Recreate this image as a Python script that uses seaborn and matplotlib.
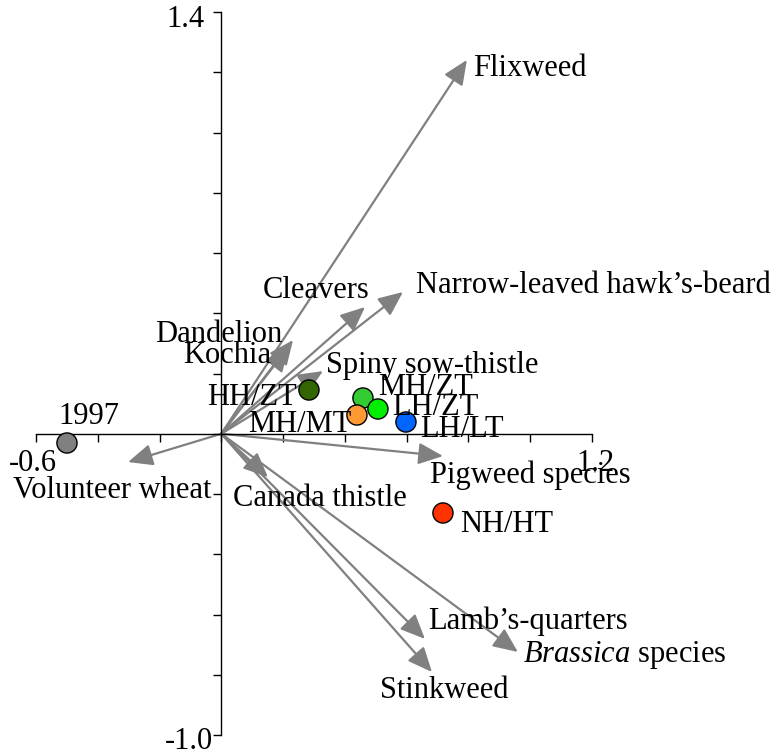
import numpy as np
import pandas as pd
import matplotlib
matplotlib.use("Agg")
import matplotlib.pyplot as plt
import seaborn as sns

# ---- data ----
species = ["Flixweed", "Narrow-leaved hawk\u2019s-beard", "Cleavers", "Dandelion", "Kochia",
           "Spiny sow-thistle", "Pigweed species", "Volunteer wheat", "Canada thistle",
           "Lamb\u2019s-quarters", "Stinkweed", "Brassica species"]
species_x = [0.795, 0.588, 0.465, 0.232, 0.218, 0.329, 0.7175, -0.302, 0.151, 0.659, 0.682, 0.960]
species_y = [1.241, 0.4705, 0.4207, 0.311, 0.288, 0.208, -0.074, -0.094, -0.144, -0.681, -0.791, -0.7245]
species_labels = ["Flixweed", "Narrow-leaved hawk\u2019s-beard", "Cleavers", "Dandelion", "Kochia",
                  "Spiny sow-thistle", "Pigweed species", "Volunteer wheat", "Canada thistle",
                  "Lamb\u2019s-quarters", "Stinkweed", r"$\mathit{Brassica}$ species"]
species_lab_x = [0.815, 0.630, 0.135, -0.215, -0.124, 0.339, 0.675, -0.6745, 0.038, 0.669, 0.5135, 0.976]
species_lab_y = [1.188, 0.467, 0.451, 0.305, 0.235, 0.202, -0.1635, -0.213, -0.240, -0.648, -0.877, -0.758]

treatments = ["1997", "HH/ZT", "MH/ZT", "LH/ZT", "MH/MT", "LH/LT", "NH/HT"]
treat_x = [-0.4997, 0.2837, 0.4585, 0.507, 0.439, 0.5977, 0.7175]
treat_y = [-0.0307, 0.1452, 0.1187, 0.0822, 0.0622, 0.039, -0.263]
treat_colors = ["#808080", "#336600", "#33cc33", "#00ee00", "#ff9933", "#0066ff", "#ff3300"]
treat_lab_x = [-0.529, -0.0465, 0.507, 0.552, 0.086, 0.643, 0.7725]
treat_lab_y = [0.032, 0.0955, 0.1286, 0.062, 0.006, -0.011, -0.326]

x_end_labels = ["-0.6", "1.2"]
y_end_labels = ["1.4", "-1.0"]

# ---- style ----
sns.set_style("white")
plt.rcParams["font.family"] = ["Liberation Serif", "DejaVu Serif"]
plt.rcParams["mathtext.fontset"] = "custom"
plt.rcParams["mathtext.rm"] = "Liberation Serif"
plt.rcParams["mathtext.it"] = "Liberation Serif:italic"
plt.rcParams["text.color"] = "black"
FS = 22

fig = plt.figure(figsize=(7.74, 7.54), dpi=100)
ax = fig.add_axes([36 / 774, (754 - 735) / 754, 556 / 774, 723 / 754])
ax.set_xlim(-0.6, 1.2)
ax.set_ylim(-1.0, 1.4)

for s in ["top", "right"]:
    ax.spines[s].set_visible(False)
ax.spines["left"].set_position(("data", 0))
ax.spines["bottom"].set_position(("data", 0))
for s in ["left", "bottom"]:
    ax.spines[s].set_color("black")
    ax.spines[s].set_linewidth(1.0)
ax.set_xticks(np.round(np.arange(-0.6, 1.21, 0.2), 2))
ax.set_yticks(np.round(np.arange(-1.0, 1.41, 0.2), 2))
ax.set_xticklabels([])
ax.set_yticklabels([])
ax.tick_params(axis="x", direction="out", length=6, width=1.0, color="black", bottom=True)
ax.tick_params(axis="y", direction="out", length=5.5, width=1.0, color="black", left=True)

# arrows
for x, y in zip(species_x, species_y):
    ax.annotate("", xy=(x, y), xytext=(0, 0),
                arrowprops=dict(arrowstyle="-|>,head_length=0.75,head_width=0.33",
                                mutation_scale=20, color="#808080", lw=1.6,
                                shrinkA=0, shrinkB=0), zorder=2)

for lab, x, y in zip(species_labels, species_lab_x, species_lab_y):
    ax.text(x, y, lab, fontsize=FS, color="black", ha="left", va="baseline",
            clip_on=False, zorder=4)

# points
df = pd.DataFrame({"x": treat_x, "y": treat_y, "treatment": treatments})
sns.scatterplot(data=df, x="x", y="y", hue="treatment", palette=treat_colors,
                hue_order=treatments, s=210, edgecolor="black", linewidth=1.0,
                legend=False, ax=ax, zorder=5, clip_on=False)
ax.set_xlabel("")
ax.set_ylabel("")

for lab, x, y in zip(treatments, treat_lab_x, treat_lab_y):
    ax.text(x, y, lab, fontsize=FS, color="black", ha="left", va="baseline",
            clip_on=False, zorder=6)

# axis end labels
ax.text(-0.6097, -0.1236, x_end_labels[0], fontsize=FS, color="black", ha="center", va="baseline", clip_on=False)
ax.text(1.21, -0.1236, x_end_labels[1], fontsize=FS, color="black", ha="center", va="baseline", clip_on=False)
ax.text(-0.053, 1.350, y_end_labels[0], fontsize=FS, color="black", ha="right", va="baseline", clip_on=False)
ax.text(-0.027, -1.046, y_end_labels[1], fontsize=FS, color="black", ha="right", va="baseline", clip_on=False)

fig.savefig("out.png", dpi=100)
